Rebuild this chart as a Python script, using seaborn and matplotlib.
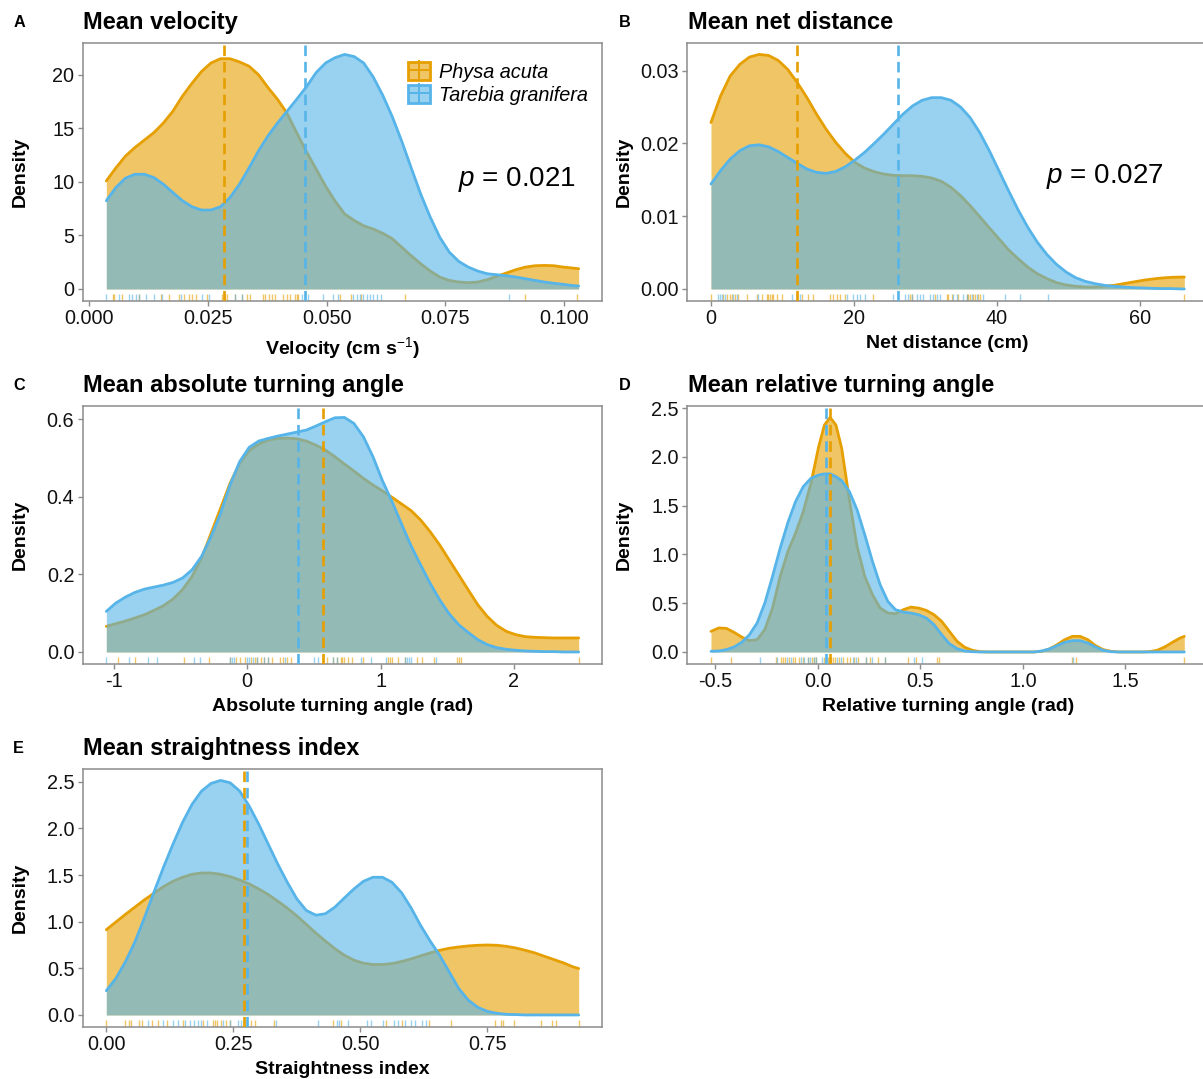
import pandas as pd
import seaborn as sns
import matplotlib.pyplot as plt
from matplotlib.colors import to_rgba
from matplotlib.patches import Patch
from matplotlib.lines import Line2D
from matplotlib.legend_handler import HandlerTuple

sns.set_theme(style='white')
plt.rcParams['font.family'] = ['Liberation Sans', 'DejaVu Sans']
plt.rcParams['mathtext.fontset'] = 'custom'
plt.rcParams['mathtext.rm'] = 'Liberation Sans'
plt.rcParams['mathtext.it'] = 'Liberation Sans:italic'
plt.rcParams['mathtext.bf'] = 'Liberation Sans:bold'
plt.rcParams['axes.unicode_minus'] = False
plt.rcParams['text.color'] = 'black'
plt.rcParams['axes.labelcolor'] = 'black'

species = ['Physa acuta', 'Tarebia granifera']
colors = ['#E69F00', '#56B4E9']

# --- A: velocity ---
vel_x = [0.0037, 0.0057, 0.0077, 0.0097, 0.0117, 0.0137, 0.0157, 0.0177, 0.0197, 0.0217,
         0.0237, 0.0257, 0.0277, 0.0297, 0.0317, 0.0337, 0.0357, 0.0377, 0.0397, 0.0417,
         0.0437, 0.0458, 0.0478, 0.0498, 0.0518, 0.0538, 0.0558, 0.0578, 0.0598, 0.0618,
         0.0638, 0.0658, 0.0678, 0.0698, 0.0718, 0.0738, 0.0758, 0.0778, 0.0798, 0.0818,
         0.0838, 0.0858, 0.0878, 0.0898, 0.0918, 0.0938, 0.0958, 0.0978, 0.0998, 0.1018,
         0.1030]
vel_physa = [10.09, 11.3, 12.4, 13.2, 13.9, 14.6, 15.5, 16.6, 18.0, 19.2,
             20.3, 21.1, 21.5, 21.5, 21.2, 20.8, 20.0, 18.8, 17.7, 16.4,
             14.6, 12.8, 11.2, 9.6, 8.2, 7.0, 6.4, 5.9, 5.6, 5.2,
             4.7, 3.9, 3.1, 2.35, 1.67, 1.11, 0.8, 0.65, 0.59, 0.65,
             0.87, 1.18, 1.49, 1.8, 2.04, 2.17, 2.2, 2.17, 2.04, 1.95,
             1.89]
vel_tarebia = [8.24, 9.47, 10.34, 10.71, 10.71, 10.4, 9.78, 9.0, 8.24, 7.68,
               7.37, 7.37, 7.68, 8.54, 9.78, 11.3, 12.9, 14.3, 15.5, 16.6,
               17.7, 18.9, 20.2, 21.1, 21.6, 21.9, 21.7, 21.1, 19.8, 18.1,
               16.1, 13.8, 11.3, 8.85, 6.7, 4.83, 3.44, 2.57, 2.04, 1.67,
               1.42, 1.33, 1.24, 1.11, 0.96, 0.8, 0.65, 0.53, 0.43, 0.31,
               0.28]
vel_rug_physa = [0.0050, 0.0054, 0.0071, 0.0106, 0.0151, 0.0169, 0.0190, 0.0200, 0.0211, 0.0218,
                 0.0225, 0.0249, 0.0280, 0.0284, 0.0287, 0.0291, 0.0308, 0.0322, 0.0333, 0.0340,
                 0.0367, 0.0371, 0.0378, 0.0385, 0.0392, 0.0409, 0.0416, 0.0423, 0.0434, 0.0437,
                 0.0441, 0.0528, 0.0552, 0.0573, 0.0664, 0.0918, 0.1027]
vel_rug_tarebia = [0.0036, 0.0064, 0.0085, 0.0092, 0.0099, 0.0106, 0.0120, 0.0137, 0.0155, 0.0193,
                   0.0238, 0.0252, 0.0308, 0.0322, 0.0448, 0.0455, 0.0462, 0.0493, 0.0514, 0.0525,
                   0.0556, 0.0563, 0.0570, 0.0577, 0.0584, 0.0591, 0.0598, 0.0605, 0.0615, 0.0884]
vel_means = [0.0284, 0.0455]
vel_xticks = [0.0, 0.025, 0.05, 0.075, 0.1]
vel_xlabels = ['0.000', '0.025', '0.050', '0.075', '0.100']
vel_yticks = [0, 5, 10, 15, 20]
vel_ylabels = ['0', '5', '10', '15', '20']

# --- B: net distance ---
net_x = [0, 1.343, 2.685, 4.028, 5.37, 6.713, 8.056, 9.398, 10.74, 12.08,
         13.43, 14.77, 16.11, 17.46, 18.8, 20.14, 21.48, 22.83, 24.17, 25.51,
         26.85, 28.2, 29.54, 30.88, 32.22, 33.57, 34.91, 36.25, 37.59, 38.94,
         40.28, 41.62, 42.97, 44.31, 45.65, 46.99, 48.34, 49.68, 51.02, 52.36,
         53.71, 55.05, 56.39, 57.73, 59.08, 60.42, 61.76, 63.1, 64.45, 65.79,
         66.22]
net_physa = [0.02288, 0.02653, 0.02927, 0.03087, 0.03187, 0.03224, 0.0321, 0.03142, 0.03018, 0.02836,
             0.0263, 0.02402, 0.02196, 0.02014, 0.01863, 0.0174, 0.01662, 0.01612, 0.0158, 0.01562,
             0.01557, 0.01557, 0.01548, 0.01525, 0.0148, 0.01397, 0.01283, 0.01146, 0.00995, 0.0084,
             0.0069, 0.00539, 0.00416, 0.00301, 0.0021, 0.00142, 0.00087, 0.00055, 0.00037, 0.00027,
             0.00027, 0.00037, 0.0005, 0.00073, 0.00096, 0.00119, 0.00137, 0.00151, 0.0016, 0.00164,
             0.00164]
net_tarebia = [0.01443, 0.01626, 0.01785, 0.019, 0.01968, 0.01982, 0.01954, 0.0189, 0.01808, 0.01726,
               0.01648, 0.01603, 0.01589, 0.01616, 0.0168, 0.01772, 0.01877, 0.02, 0.02128, 0.02265,
               0.02402, 0.02516, 0.02594, 0.0263, 0.0263, 0.02594, 0.02502, 0.02356, 0.02151, 0.019,
               0.01626, 0.01352, 0.01087, 0.00849, 0.00644, 0.00475, 0.00338, 0.00233, 0.00155, 0.00105,
               0.00073, 0.0005, 0.00037, 0.00027, 0.00018, 0.00014, 0.00009, 0.00005, 0.00005, 0.0,
               0.0]
net_rug_physa = [0, 1.72, 2.19, 2.66, 2.89, 3.36, 3.82, 4.99, 6.39, 7.09, 7.79, 8.02, 8.25, 8.49,
                 8.72, 9.18, 9.88, 11.98, 12.68, 13.61, 14.31, 16.64, 17.11, 17.58, 18.04, 18.74,
                 22.70, 27.83, 28.07, 31.33, 32.96, 33.19, 33.66, 34.59, 35.76, 35.99, 36.22,
                 36.69, 36.92, 37.39, 37.62, 66.15]
net_rug_tarebia = [1.03, 1.26, 1.49, 1.96, 3.12, 3.59, 6.62, 11.28, 12.45, 18.97, 19.91, 20.37,
                   20.84, 21.54, 25.50, 26.20, 27.13, 27.60, 28.07, 28.76, 29.23, 29.70, 30.63,
                   31.10, 31.56, 32.03, 33.89, 34.36, 35.29, 35.76, 36.46, 37.16, 38.09, 41.13,
                   43.22, 47.18]
net_means = [12.0, 26.2]
net_xticks = [0, 20, 40, 60]
net_xlabels = ['0', '20', '40', '60']
net_yticks = [0.0, 0.01, 0.02, 0.03]
net_ylabels = ['0.00', '0.01', '0.02', '0.03']

# --- C: absolute turning angle ---
abs_x = [-1.057, -0.986, -0.914, -0.843, -0.771, -0.700, -0.629, -0.557, -0.486, -0.414,
         -0.343, -0.271, -0.200, -0.129, -0.057, 0.014, 0.086, 0.157, 0.229, 0.300,
         0.371, 0.443, 0.514, 0.586, 0.657, 0.729, 0.800, 0.871, 0.943, 1.014,
         1.086, 1.157, 1.229, 1.300, 1.371, 1.443, 1.514, 1.586, 1.657, 1.729,
         1.800, 1.871, 1.943, 2.014, 2.086, 2.157, 2.229, 2.300, 2.371, 2.443,
         2.486]
abs_physa = [0.0661, 0.073, 0.0798, 0.0876, 0.0961, 0.1073, 0.1193, 0.1365, 0.1605, 0.1948,
             0.242, 0.3064, 0.3708, 0.4352, 0.4867, 0.5193, 0.5365, 0.5468, 0.5511, 0.5519,
             0.5502, 0.5442, 0.5339, 0.521, 0.5039, 0.485, 0.467, 0.4481, 0.4309, 0.4155,
             0.3991, 0.382, 0.3648, 0.3408, 0.3107, 0.2764, 0.2378, 0.1991, 0.1605, 0.1219,
             0.0918, 0.0687, 0.0532, 0.0446, 0.0395, 0.0378, 0.0369, 0.0361, 0.0361, 0.0361,
             0.0361]
abs_tarebia = [0.1047, 0.1262, 0.1416, 0.1536, 0.1622, 0.1674, 0.1725, 0.1794, 0.1906, 0.212,
               0.2464, 0.2979, 0.3579, 0.4309, 0.491, 0.5279, 0.5442, 0.5511, 0.5571, 0.5622,
               0.5674, 0.5725, 0.5828, 0.594, 0.6043, 0.6052, 0.5897, 0.5554, 0.5039, 0.442,
               0.3880, 0.3305, 0.2738, 0.2249, 0.1777, 0.1348, 0.0987, 0.0704, 0.0506, 0.0318,
               0.0189, 0.0112, 0.0069, 0.0043, 0.0026, 0.0017, 0.0009, 0.0009, 0.0, 0.0,
               0.0]
abs_rug_physa = [-0.966, -0.843, -0.471, -0.286, -0.129, -0.086, -0.057, -0.014, 0.029, 0.057,
                 0.071, 0.1, 0.129, 0.157, 0.186, 0.243, 0.271, 0.3, 0.329, 0.571, 0.6, 0.643,
                 0.671, 0.7, 0.714, 0.729, 0.757, 0.786, 0.871, 1.057, 1.071, 1.086, 1.129, 1.186,
                 1.271, 1.314, 1.4, 1.571, 1.586, 1.6, 2.486]
abs_rug_tarebia = [-1.057, -0.886, -0.743, -0.677, -0.4, -0.357, -0.129, -0.114, -0.1, 0.0, 0.014,
                   0.043, 0.071, 0.129, 0.157, 0.286, 0.38, 0.50, 0.529, 0.643, 0.671, 0.857,
                   0.929, 1.043, 1.186, 1.2, 1.214, 1.229, 1.414]
abs_means = [0.571, 0.38]
abs_xticks = [-1, 0, 1, 2]
abs_xlabels = ['-1', '0', '1', '2']
abs_yticks = [0.0, 0.2, 0.4, 0.6]
abs_ylabels = ['0.0', '0.2', '0.4', '0.6']

# --- D: relative turning angle ---
rel_x = [-0.5216, -0.4841, -0.4465, -0.409, -0.3715, -0.334, -0.2964, -0.2589, -0.2214, -0.1839,
         -0.1463, -0.1088, -0.0713, -0.0338, 0.0038, 0.0319, 0.06, 0.0882, 0.1163, 0.1538,
         0.1914, 0.2289, 0.2664, 0.3039, 0.3415, 0.379, 0.4165, 0.454, 0.4916, 0.5291,
         0.5666, 0.6041, 0.6417, 0.6792, 0.7167, 0.7542, 0.7917, 0.8293, 0.8668, 0.9043,
         0.9418, 0.9794, 1.0169, 1.0544, 1.0919, 1.1295, 1.167, 1.2045, 1.242, 1.2795,
         1.3171, 1.3546, 1.3921, 1.4296, 1.4672, 1.5047, 1.5422, 1.5797, 1.6173, 1.6548,
         1.6923, 1.7298, 1.7674, 1.788]
rel_physa = [0.211, 0.246, 0.242, 0.201, 0.153, 0.116, 0.126, 0.229, 0.45, 0.774,
             1.03, 1.218, 1.439, 1.729, 2.104, 2.326, 2.404, 2.326, 2.087, 1.559,
             1.081, 0.774, 0.587, 0.45, 0.399, 0.392, 0.433, 0.46, 0.45, 0.426,
             0.382, 0.314, 0.211, 0.109, 0.048, 0.017, 0.003, 0.0, 0.0, 0.0,
             0.0, 0.0, 0.0, 0.0, 0.007, 0.031, 0.075, 0.126, 0.16, 0.16,
             0.126, 0.065, 0.024, 0.007, 0.0, 0.0, 0.0, 0.0, 0.003, 0.017,
             0.051, 0.099, 0.143, 0.16]
rel_tarebia = [0.007, 0.01, 0.024, 0.051, 0.099, 0.177, 0.297, 0.501, 0.774, 1.064,
               1.327, 1.542, 1.695, 1.78, 1.814, 1.825, 1.825, 1.797, 1.756, 1.644,
               1.456, 1.201, 0.928, 0.689, 0.518, 0.433, 0.409, 0.399, 0.382, 0.348,
               0.28, 0.177, 0.085, 0.034, 0.01, 0.003, 0.0, 0.0, 0.0, 0.0,
               0.0, 0.0, 0.0, 0.0, 0.01, 0.031, 0.065, 0.099, 0.116, 0.116,
               0.092, 0.051, 0.017, 0.003, 0.0, 0.0, 0.0, 0.0, 0.0, 0.0,
               0.0, 0.0, 0.0, 0.0]
rel_rug_physa = [-0.522, -0.422, -0.206, -0.178, -0.169, -0.159, -0.141, -0.122, -0.113, -0.094,
                 -0.075, -0.047, -0.028, -0.019, -0.009, 0.028, 0.047, 0.062, 0.075, 0.084, 0.103,
                 0.122, 0.141, 0.159, 0.178, 0.197, 0.235, 0.253, 0.291, 0.328, 0.441, 0.478,
                 0.582, 0.591, 1.238, 1.257, 1.788]
rel_rug_tarebia = [-0.281, -0.197, -0.15, -0.131, -0.084, -0.066, -0.047, -0.038, -0.019, -0.009,
                   0.019, 0.038, 0.056, 0.094, 0.113, 0.169, 0.188, 0.235, 0.263, 0.328, 0.469,
                   0.507, 1.244]
rel_means = [0.06, 0.038]
rel_xticks = [-0.5, 0.0, 0.5, 1.0, 1.5]
rel_xlabels = ['-0.5', '0.0', '0.5', '1.0', '1.5']
rel_yticks = [0.0, 0.5, 1.0, 1.5, 2.0, 2.5]
rel_ylabels = ['0.0', '0.5', '1.0', '1.5', '2.0', '2.5']

# --- E: straightness index ---
str_x = [0, 0.0187, 0.0375, 0.0562, 0.075, 0.0937, 0.1124, 0.1312, 0.1499, 0.1687,
         0.1874, 0.2061, 0.2249, 0.2436, 0.2624, 0.2811, 0.2999, 0.3186, 0.3373, 0.3561,
         0.3748, 0.3936, 0.4123, 0.431, 0.4498, 0.4685, 0.4873, 0.506, 0.5247, 0.5435,
         0.5622, 0.581, 0.5997, 0.6184, 0.6372, 0.6559, 0.6747, 0.6934, 0.7121, 0.7309,
         0.7496, 0.7684, 0.7871, 0.8058, 0.8246, 0.8433, 0.8621, 0.8808, 0.8996, 0.9183,
         0.9295]
str_physa = [0.914, 0.996, 1.078, 1.156, 1.234, 1.305, 1.376, 1.433, 1.476, 1.508,
             1.522, 1.522, 1.508, 1.483, 1.447, 1.405, 1.351, 1.291, 1.22, 1.145,
             1.063, 0.971, 0.878, 0.793, 0.711, 0.64, 0.587, 0.555, 0.541, 0.541,
             0.551, 0.573, 0.601, 0.633, 0.665, 0.693, 0.715, 0.729, 0.74, 0.747,
             0.75, 0.747, 0.736, 0.718, 0.693, 0.665, 0.629, 0.594, 0.558, 0.516,
             0.498]
str_tarebia = [0.26, 0.391, 0.569, 0.782, 1.042, 1.316, 1.582, 1.831, 2.063, 2.258,
               2.4, 2.482, 2.514, 2.489, 2.4, 2.24, 2.045, 1.831, 1.618, 1.422,
               1.245, 1.12, 1.07, 1.085, 1.156, 1.255, 1.351, 1.433, 1.476, 1.476,
               1.422, 1.31, 1.148, 0.96, 0.793, 0.64, 0.462, 0.284, 0.16, 0.082,
               0.039, 0.018, 0.007, 0.004, 0.0, 0.0, 0.0, 0.0, 0.0, 0.0,
               0.0]
str_rug_physa = [0, 0.0375, 0.045, 0.049, 0.064, 0.071, 0.09, 0.101, 0.12, 0.15, 0.191, 0.21,
                 0.214, 0.217, 0.225, 0.236, 0.244, 0.27, 0.285, 0.292, 0.33, 0.446, 0.461, 0.551,
                 0.581, 0.634, 0.678, 0.765, 0.776, 0.78, 0.802, 0.855, 0.877, 0.885, 0.93]
str_rug_tarebia = [0.082, 0.112, 0.131, 0.142, 0.154, 0.165, 0.172, 0.18, 0.187, 0.199, 0.229,
                   0.244, 0.259, 0.266, 0.277, 0.334, 0.416, 0.454, 0.457, 0.476, 0.513, 0.521,
                   0.544, 0.566, 0.573, 0.588, 0.6, 0.607, 0.622, 0.63]
str_means = [0.27, 0.277]
str_xticks = [0.0, 0.25, 0.5, 0.75]
str_xlabels = ['0.00', '0.25', '0.50', '0.75']
str_yticks = [0.0, 0.5, 1.0, 1.5, 2.0, 2.5]
str_ylabels = ['0.0', '0.5', '1.0', '1.5', '2.0', '2.5']

W, H = 1203, 1079
fig = plt.figure(figsize=(W / 100, H / 100), dpi=100)
grey = '#8c8c8c'


def make_axes(left, top, right, bottom):
    return fig.add_axes([left / W, 1 - bottom / H, (right - left) / W, (bottom - top) / H])


def draw_panel(ax, x, dens, rugs, means, xticks, xlabels, yticks, ylabels, xlabel):
    z = 1.0
    for sp, col, d in zip(species, colors, dens):
        ax.fill_between(x, 0, d, color=col, alpha=0.6, lw=0, zorder=z)
        df = pd.DataFrame({'x': x, 'density': d})
        sns.lineplot(data=df, x='x', y='density', ax=ax, color=col, lw=2.0,
                     estimator=None, zorder=z + 0.1)
        z += 0.2
    for col, r in zip(colors, rugs):
        sns.rugplot(x=r, ax=ax, height=0.027, color=col, alpha=0.6, lw=1.0,
                    expand_margins=False)
    for col, m in zip(colors, means):
        ax.axvline(m, color=col, ls=(0, (4, 2.2)), lw=1.9, zorder=3)

    lo, hi = min(x), max(x)
    pad = 0.05 * (hi - lo)
    ax.set_xlim(lo - pad, hi + pad)
    top = max(max(d) for d in dens)
    ax.set_ylim(-0.05 * top, 1.05 * top)
    ax.set_xticks(xticks, xlabels)
    ax.set_yticks(yticks, ylabels)
    ax.tick_params(direction='out', length=3.5, width=1, color=grey, pad=2.5,
                   labelsize=14.3, labelcolor='#111111', bottom=True, left=True)
    for s in ax.spines.values():
        s.set_color(grey)
        s.set_linewidth(1.1)
    ax.set_xlabel(xlabel, fontsize=14, fontweight='bold')
    ax.set_ylabel('Density', fontsize=14, fontweight='bold')
    ax.xaxis.set_label_coords(0.5, -0.133)
    ax.yaxis.set_label_coords(-0.104, 0.5)


ax_a = make_axes(82.7, 42.7, 602.3, 300.7)
draw_panel(ax_a, vel_x, [vel_physa, vel_tarebia], [vel_rug_physa, vel_rug_tarebia], vel_means,
           vel_xticks, vel_xlabels, vel_yticks, vel_ylabels, r'Velocity (cm s$^{-1}$)')
ax_b = make_axes(687.3, 42.7, 1208, 300.7)
draw_panel(ax_b, net_x, [net_physa, net_tarebia], [net_rug_physa, net_rug_tarebia], net_means,
           net_xticks, net_xlabels, net_yticks, net_ylabels, 'Net distance (cm)')
ax_c = make_axes(82.7, 405.7, 602.3, 663.7)
draw_panel(ax_c, abs_x, [abs_physa, abs_tarebia], [abs_rug_physa, abs_rug_tarebia], abs_means,
           abs_xticks, abs_xlabels, abs_yticks, abs_ylabels, 'Absolute turning angle (rad)')
ax_d = make_axes(687.3, 405.7, 1208, 663.7)
draw_panel(ax_d, rel_x, [rel_physa, rel_tarebia], [rel_rug_physa, rel_rug_tarebia], rel_means,
           rel_xticks, rel_xlabels, rel_yticks, rel_ylabels, 'Relative turning angle (rad)')
ax_e = make_axes(82.7, 768.7, 602.3, 1026.7)
draw_panel(ax_e, str_x, [str_physa, str_tarebia], [str_rug_physa, str_rug_tarebia], str_means,
           str_xticks, str_xlabels, str_yticks, str_ylabels, 'Straightness index')

# p-values
ax_a.text(0.949, 0.468, r'$p$ = 0.021', transform=ax_a.transAxes, ha='right', va='center',
          fontsize=20)
ax_b.text(0.9145, 0.48, r'$p$ = 0.027', transform=ax_b.transAxes, ha='right', va='center',
          fontsize=20)

# legend
handles = []
for col in colors:
    handles.append((Patch(facecolor=to_rgba(col, 0.6), edgecolor=col, lw=2),
                    Line2D([], [], color=col, marker='|', markersize=15, markeredgewidth=1.4,
                           ls='none'),
                    Line2D([], [], color=col, marker='_', markersize=15, markeredgewidth=1.4,
                           ls='none')))
ax_a.legend(handles, species, handler_map={tuple: HandlerTuple(ndivide=1, pad=0)},
            loc='upper left', bbox_to_anchor=(0.6267, 0.926), frameon=False, borderpad=0,
            borderaxespad=0, handlelength=1.1, handleheight=1.05, handletextpad=0.45,
            labelspacing=0.15, prop={'style': 'italic', 'size': 14.3})

# titles and panel letters
titles = ['Mean velocity', 'Mean net distance', 'Mean absolute turning angle',
          'Mean relative turning angle', 'Mean straightness index']
letters = ['A', 'B', 'C', 'D', 'E']
title_pos = [(82.7, 29.3), (687.7, 29.3), (82.7, 392.3), (687.7, 392.3), (82.7, 755.3)]
letter_pos = [(13.3, 26.7), (619, 26.7), (13.3, 389.7), (619, 389.7), (13.3, 752.7)]
for t, (tx, ty) in zip(titles, title_pos):
    fig.text(tx / W, 1 - ty / H, t, fontsize=17, fontweight='bold', ha='left', va='baseline')
for l, (lx, ly) in zip(letters, letter_pos):
    fig.text(lx / W, 1 - ly / H, l, fontsize=11.7, fontweight='bold', ha='left', va='baseline')

fig.savefig('out.png', dpi=100, facecolor='white')
